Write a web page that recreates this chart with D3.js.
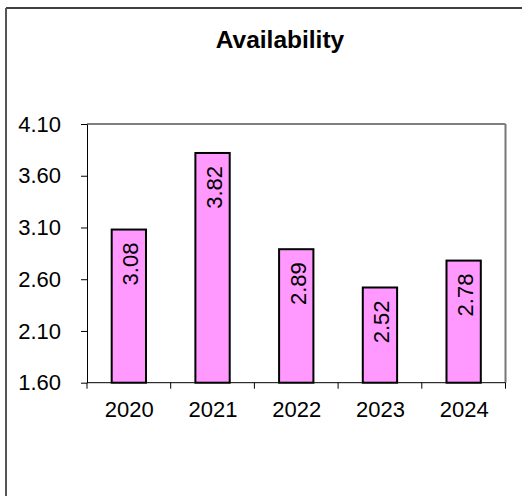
<!DOCTYPE html>
<html>
<head>
<meta charset="utf-8">
<script src="https://cdn.jsdelivr.net/npm/d3@7"></script>
<style>
  html, body { margin: 0; padding: 0; background: #fff; }
  svg { display: block; }
  text { font-family: Arial, "Liberation Sans", sans-serif; fill: #000; }
</style>
</head>
<body>
<script>
// Yearly availability values
const years = ["2020", "2021", "2022", "2023", "2024"];
const availability = [3.08, 3.82, 2.89, 2.52, 2.78];
const yTicks = [1.60, 2.10, 2.60, 3.10, 3.60, 4.10];
const chartTitle = "Availability";

const W = 522, H = 496;
const plot = { left: 87, right: 505.5, top: 124, bottom: 382.7 };
const fontSize = "22px";

const svg = d3.select("body").append("svg")
  .attr("width", W).attr("height", H);

// outer chart frame (extends past the window on the right and bottom)
svg.append("line").attr("x1", 6).attr("x2", W + 5).attr("y1", 8).attr("y2", 8)
  .attr("stroke", "#000").attr("stroke-width", 1.5);
svg.append("line").attr("x1", 6).attr("x2", 6).attr("y1", 8).attr("y2", H + 5)
  .attr("stroke", "#555").attr("stroke-width", 2);

// title
svg.append("text")
  .attr("x", 280).attr("y", 48)
  .attr("text-anchor", "middle")
  .style("font-size", "24.5px").style("font-weight", "bold")
  .text(chartTitle);

const x = d3.scaleBand().domain(years).range([plot.left, plot.right]).padding(0);
const y = d3.scaleLinear().domain([1.6, 4.1]).range([plot.bottom, plot.top]);

// plot area top and right borders
svg.append("line").attr("x1", plot.left).attr("x2", plot.right)
  .attr("y1", plot.top).attr("y2", plot.top)
  .attr("stroke", "#000").attr("stroke-width", 1);
svg.append("line").attr("x1", plot.right).attr("x2", plot.right)
  .attr("y1", plot.top).attr("y2", plot.bottom)
  .attr("stroke", "#777").attr("stroke-width", 2);

// bars
const barW = x.bandwidth() * 0.41;
svg.append("g").selectAll("rect")
  .data(availability)
  .join("rect")
  .attr("x", (d, i) => x(years[i]) + x.bandwidth() / 2 - barW / 2)
  .attr("y", d => y(d))
  .attr("width", barW)
  .attr("height", d => y(1.6) - y(d))
  .attr("fill", "#FF99FF")
  .attr("stroke", "#000")
  .attr("stroke-width", 2);

// value labels, rotated inside each bar
svg.append("g").selectAll("text")
  .data(availability)
  .join("text")
  .attr("transform", (d, i) =>
    `translate(${x(years[i]) + x.bandwidth() / 2 + 9.5},${y(d) + 13}) rotate(-90)`)
  .attr("text-anchor", "end")
  .style("font-size", fontSize)
  .text(d => d3.format(".2f")(d));

// y axis
const yAxis = d3.axisLeft(y)
  .tickValues(yTicks)
  .tickSize(6)
  .tickSizeOuter(0)
  .tickFormat(d3.format(".2f"));
const gy = svg.append("g")
  .attr("transform", `translate(${plot.left},0)`)
  .call(yAxis);
gy.select(".domain").attr("stroke", "#000");
gy.selectAll(".tick line").attr("stroke", "#000");
gy.selectAll(".tick text")
  .attr("x", -26)
  .style("font-size", fontSize)
  .style("font-family", "Arial, 'Liberation Sans', sans-serif");

// x axis: baseline, ticks at category boundaries, labels centred
const gx = svg.append("g");
gx.append("line")
  .attr("x1", plot.left).attr("x2", plot.right)
  .attr("y1", plot.bottom).attr("y2", plot.bottom)
  .attr("stroke", "#000");
const boundaries = years.map(c => x(c)).concat([x(years[years.length - 1]) + x.bandwidth()]);
gx.selectAll("line.tick")
  .data(boundaries)
  .join("line")
  .attr("class", "tick")
  .attr("x1", d => d).attr("x2", d => d)
  .attr("y1", plot.bottom).attr("y2", plot.bottom + 6)
  .attr("stroke", "#000");
gx.selectAll("text")
  .data(years)
  .join("text")
  .attr("x", d => x(d) + x.bandwidth() / 2 + 0.5)
  .attr("y", 417)
  .attr("text-anchor", "middle")
  .style("font-size", fontSize)
  .text(d => d);
</script>
</body>
</html>
